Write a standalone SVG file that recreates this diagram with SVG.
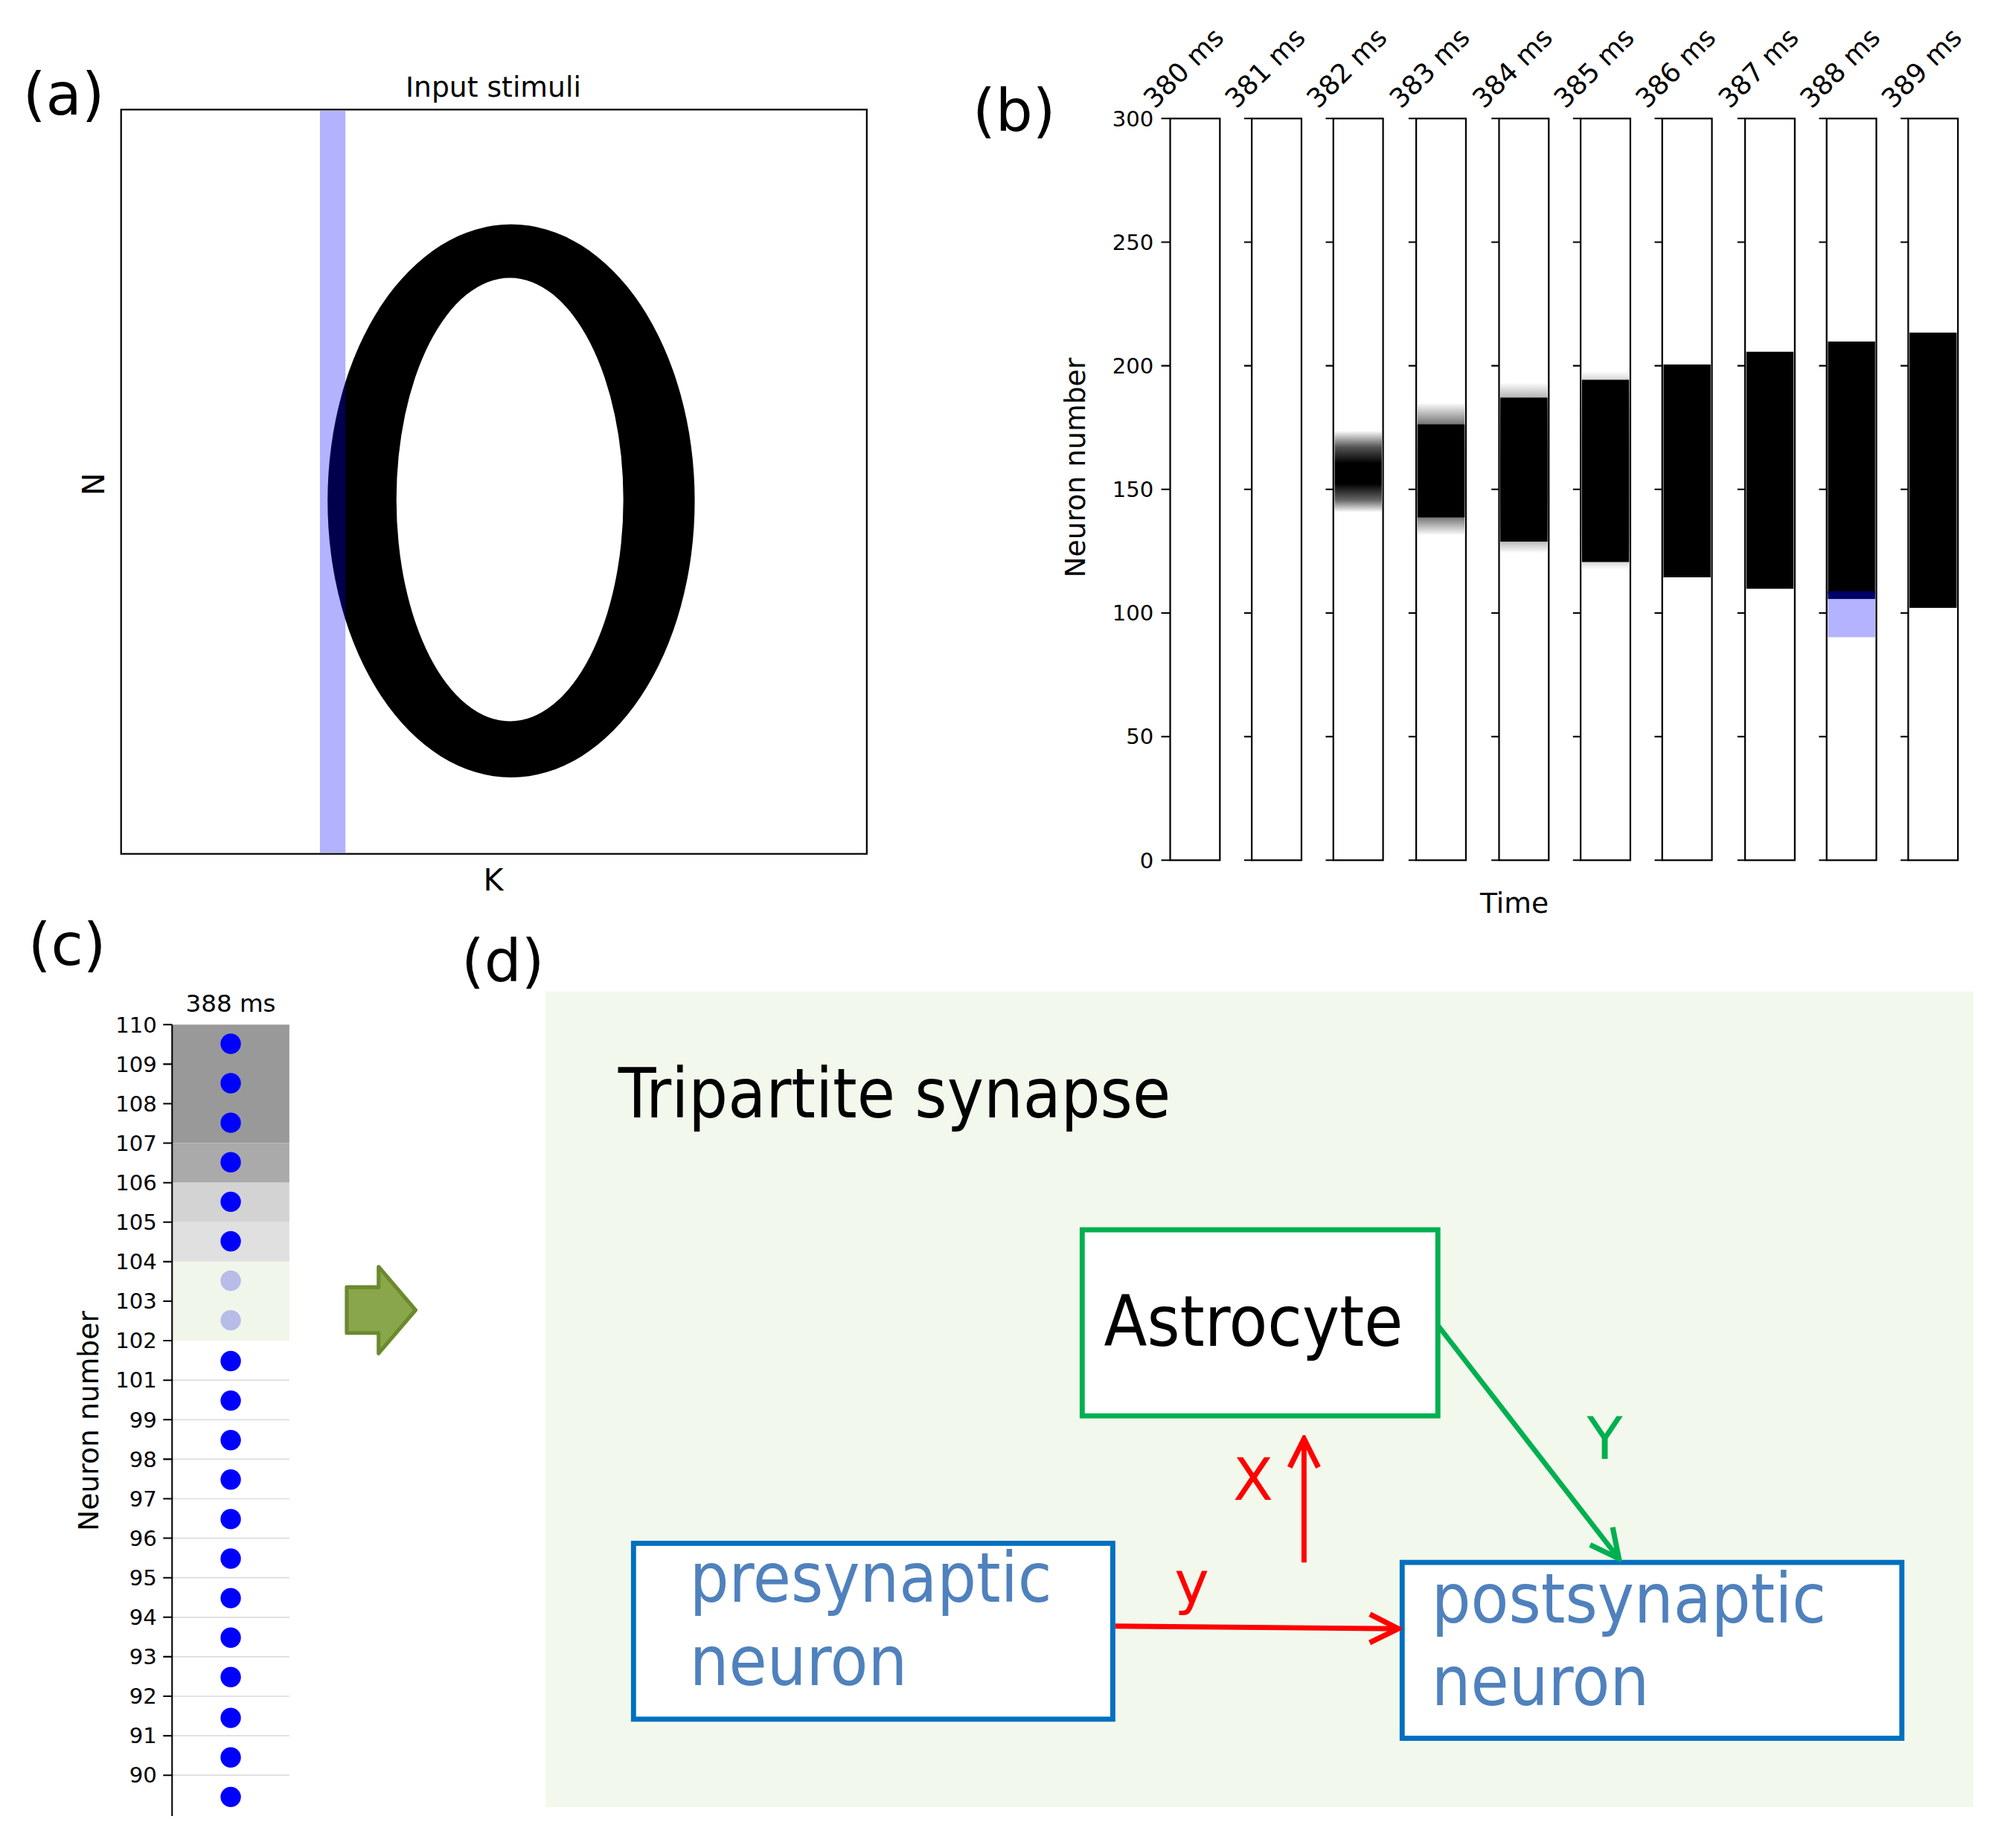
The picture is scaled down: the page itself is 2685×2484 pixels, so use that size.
<svg xmlns="http://www.w3.org/2000/svg" width="2685" height="2484" viewBox="0 0 2685 2484">
<style>
text{font-family:"DejaVu Sans",sans-serif;fill:#000}
.lab{font-size:46px}
.tk{font-size:17px}
.col{fill:#fff;stroke:#000;stroke-width:1.3}
.ax{stroke:#000;stroke-width:1.2}
.cd{font-family:"DejaVu Sans Condensed","DejaVu Sans",sans-serif}
.big{font-size:54px;fill:#4f81bd;font-family:"DejaVu Sans Condensed","DejaVu Sans",sans-serif}
</style>
<defs>
<linearGradient id="g382" x1="0" y1="0" x2="0" y2="1">
<stop offset="0" stop-color="#fff"/><stop offset="0.2" stop-color="#555"/><stop offset="0.4" stop-color="#000"/><stop offset="0.65" stop-color="#000"/><stop offset="0.85" stop-color="#666"/><stop offset="1" stop-color="#fff"/>
</linearGradient>
<marker id="ar" viewBox="0 0 20 20" refX="18" refY="10" markerWidth="7" markerHeight="7" orient="auto" markerUnits="strokeWidth">
<path d="M2,2 L18,10 L2,18" fill="none" stroke="context-stroke" stroke-width="3"/>
</marker>
</defs>
<rect width="2685" height="2484" fill="#fff"/>
<g transform="scale(1.713)">
<g id="panel-a">
<text x="18" y="90" class="lab">(a)</text>
<text x="387" y="76" font-size="22" text-anchor="middle">Input stimuli</text>
<rect x="95" y="86" width="585" height="584" fill="#fff" stroke="#000" stroke-width="1.3"/>
<ellipse cx="401" cy="393" rx="144" ry="217" fill="#000"/>
<ellipse cx="400" cy="392" rx="89" ry="174" fill="#fff"/>
<rect x="251" y="87" width="20" height="582" fill="#0000ff" fill-opacity="0.3"/>
<text x="82" y="380" font-size="24" text-anchor="middle" transform="rotate(-90 82 380)">N</text>
<text x="387" y="699" font-size="24" text-anchor="middle">K</text>
</g>
<g id="panel-b">
<text x="763" y="103" class="lab">(b)</text>
<g class="tk" text-anchor="end">
<text x="905" y="99">300</text><text x="905" y="196">250</text><text x="905" y="293">200</text><text x="905" y="390">150</text><text x="905" y="487">100</text><text x="905" y="584">50</text><text x="905" y="681">0</text>
</g>
<text x="851" y="367" font-size="22" text-anchor="middle" transform="rotate(-90 851 367)">Neuron number</text>
<text x="1188" y="716" font-size="22" text-anchor="middle">Time</text>
<g id="cols">
<rect class="col" x="918" y="93" width="39" height="582"/>
<rect class="col" x="982" y="93" width="39" height="582"/>
<rect class="col" x="1046" y="93" width="39" height="582"/>
<rect class="col" x="1111" y="93" width="39" height="582"/>
<rect class="col" x="1176" y="93" width="39" height="582"/>
<rect class="col" x="1240" y="93" width="39" height="582"/>
<rect class="col" x="1304" y="93" width="39" height="582"/>
<rect class="col" x="1369" y="93" width="39" height="582"/>
<rect class="col" x="1433" y="93" width="39" height="582"/>
<rect class="col" x="1497" y="93" width="39" height="582"/>
</g>
<rect x="1047" y="338" width="37" height="64" fill="url(#g382)"/>
<rect x="1112" y="316" width="37" height="104" fill="url(#g382)"/>
<rect x="1112" y="333" width="37" height="73" fill="#000"/>
<rect x="1177" y="300" width="37" height="134" fill="url(#g382)"/>
<rect x="1177" y="312" width="37" height="113" fill="#000"/>
<rect x="1241" y="291" width="37" height="156" fill="url(#g382)"/>
<rect x="1241" y="298" width="37" height="143" fill="#000"/>
<rect x="1305" y="286" width="37" height="167" fill="#000"/>
<rect x="1370" y="276" width="37" height="186" fill="#000"/>
<rect x="1434" y="268" width="37" height="198" fill="#000"/>
<rect x="1434" y="466" width="37" height="34" fill="#b3b3ff"/>
<rect x="1434" y="464" width="37" height="6" fill="#000066"/>
<rect x="1498" y="261" width="37" height="216" fill="#000"/>
<g class="ax">
<path d="M911,93h7M911,190h7M911,287h7M911,384h7M911,481h7M911,578h7M911,675h7"/>
<path d="M976,190h6M976,287h6M976,384h6M976,481h6M976,578h6M976,675h6M976,93h6"/>
<path d="M1040,93h6M1040,190h6M1040,287h6M1040,384h6M1040,481h6M1040,578h6M1040,675h6"/>
<path d="M1105,93h6M1105,190h6M1105,287h6M1105,384h6M1105,481h6M1105,578h6M1105,675h6"/>
<path d="M1170,93h6M1170,190h6M1170,287h6M1170,384h6M1170,481h6M1170,578h6M1170,675h6"/>
<path d="M1234,93h6M1234,190h6M1234,287h6M1234,384h6M1234,481h6M1234,578h6M1234,675h6"/>
<path d="M1298,93h6M1298,190h6M1298,287h6M1298,384h6M1298,481h6M1298,578h6M1298,675h6"/>
<path d="M1363,93h6M1363,190h6M1363,287h6M1363,384h6M1363,481h6M1363,578h6M1363,675h6"/>
<path d="M1427,93h6M1427,190h6M1427,287h6M1427,384h6M1427,481h6M1427,578h6M1427,675h6"/>
<path d="M1491,93h6M1491,190h6M1491,287h6M1491,384h6M1491,481h6M1491,578h6M1491,675h6"/>
</g>
<g font-size="21">
<text transform="translate(906,86) rotate(-45)">380 ms</text>
<text transform="translate(970,86) rotate(-45)">381 ms</text>
<text transform="translate(1034,86) rotate(-45)">382 ms</text>
<text transform="translate(1099,86) rotate(-45)">383 ms</text>
<text transform="translate(1164,86) rotate(-45)">384 ms</text>
<text transform="translate(1228,86) rotate(-45)">385 ms</text>
<text transform="translate(1292,86) rotate(-45)">386 ms</text>
<text transform="translate(1357,86) rotate(-45)">387 ms</text>
<text transform="translate(1421,86) rotate(-45)">388 ms</text>
<text transform="translate(1485,86) rotate(-45)">389 ms</text>
</g>
</g>
<g id="panel-c">
<text x="22" y="757" class="lab">(c)</text>
<text x="181" y="794" font-size="19" text-anchor="middle">388 ms</text>
<rect x="135" y="804" width="92" height="93" fill="#999"/>
<rect x="135" y="897" width="92" height="31" fill="#aaa"/>
<rect x="135" y="928" width="92" height="31" fill="#d3d3d3"/>
<rect x="135" y="959" width="92" height="31" fill="#e0e0e0"/>
<rect x="135" y="990" width="92" height="62" fill="#f0f6ea"/>
<g stroke="#ddd" stroke-width="1">
<path d="M135,1083h92M135,1114h92M135,1145h92M135,1176h92M135,1207h92M135,1238h92M135,1269h92M135,1300h92M135,1331h92M135,1362h92M135,1393h92"/>
</g>
<path d="M135,804V1425" class="ax"/>
<g class="ax">
<path d="M128,804h7M128,835h7M128,866h7M128,897h7M128,928h7M128,959h7M128,990h7M128,1021h7M128,1052h7M128,1083h7M128,1114h7M128,1145h7M128,1176h7M128,1207h7M128,1238h7M128,1269h7M128,1300h7M128,1331h7M128,1362h7M128,1393h7"/>
</g>
<g class="tk" text-anchor="end">
<text x="123" y="810">110</text><text x="123" y="841">109</text><text x="123" y="872">108</text><text x="123" y="903">107</text><text x="123" y="934">106</text><text x="123" y="965">105</text><text x="123" y="996">104</text><text x="123" y="1027">103</text><text x="123" y="1058">102</text><text x="123" y="1089">101</text><text x="123" y="1120">99</text><text x="123" y="1151">98</text><text x="123" y="1182">97</text><text x="123" y="1213">96</text><text x="123" y="1244">95</text><text x="123" y="1275">94</text><text x="123" y="1306">93</text><text x="123" y="1337">92</text><text x="123" y="1368">91</text><text x="123" y="1399">90</text>
</g>
<text x="77" y="1115" font-size="22" text-anchor="middle" transform="rotate(-90 77 1115)">Neuron number</text>
<g fill="#0000ff">
<circle cx="181" cy="819" r="8"/><circle cx="181" cy="850" r="8"/><circle cx="181" cy="881" r="8"/><circle cx="181" cy="912" r="8"/><circle cx="181" cy="943" r="8"/><circle cx="181" cy="974" r="8"/>
<circle cx="181" cy="1005" r="8" fill="#b8bce8"/><circle cx="181" cy="1036" r="8" fill="#b8bce8"/>
<circle cx="181" cy="1068" r="8"/><circle cx="181" cy="1099" r="8"/><circle cx="181" cy="1130" r="8"/><circle cx="181" cy="1161" r="8"/><circle cx="181" cy="1192" r="8"/><circle cx="181" cy="1223" r="8"/><circle cx="181" cy="1254" r="8"/><circle cx="181" cy="1285" r="8"/><circle cx="181" cy="1316" r="8"/><circle cx="181" cy="1348" r="8"/><circle cx="181" cy="1379" r="8"/><circle cx="181" cy="1410" r="8"/>
</g>
</g>
<g id="green-arrow">
<path d="M272,1010H297V994L326,1028L297,1062V1046H272Z" fill="#8aa64a" stroke="#6b8a2e" stroke-width="3" stroke-linejoin="round"/>
</g>
<g id="panel-d">
<text x="362" y="770" class="lab">(d)</text>
<rect x="428" y="778" width="1120" height="640" fill="#f3f8ec"/>
<text x="485" y="877" font-size="54" class="cd">Tripartite synapse</text>
</g>
<g id="astrocyte">
<rect x="849" y="965" width="279" height="146" fill="#fff" stroke="#00b050" stroke-width="4"/>
<text x="866" y="1056" font-size="55" class="cd">Astrocyte</text>
</g>
<g id="presynaptic">
<rect x="497" y="1211" width="376" height="138" fill="#fff" stroke="#0070c0" stroke-width="4"/>
<text x="541" y="1257" class="big">presynaptic</text>
<text x="541" y="1322" class="big">neuron</text>
</g>
<g id="postsynaptic">
<rect x="1100" y="1226" width="392" height="138" fill="#fff" stroke="#0070c0" stroke-width="4"/>
<text x="1123" y="1273" class="big">postsynaptic</text>
<text x="1123" y="1338" class="big">neuron</text>
</g>
<g id="connectors" fill="none" stroke-width="4">
<path d="M875,1276L1097,1278" stroke="#ff0000" marker-end="url(#ar)"/>
<path d="M1023,1226V1129" stroke="#ff0000" marker-end="url(#ar)"/>
<path d="M1128,1040L1270,1223" stroke="#00b050" marker-end="url(#ar)"/>
<text x="935" y="1258" font-size="46" text-anchor="middle" stroke="none" style="fill:#ff0000">y</text>
<text x="983" y="1177" font-size="46" text-anchor="middle" stroke="none" style="fill:#ff0000">X</text>
<text x="1259" y="1145" font-size="46" text-anchor="middle" stroke="none" style="fill:#00b050">Y</text>
</g>
</g>
</svg>
